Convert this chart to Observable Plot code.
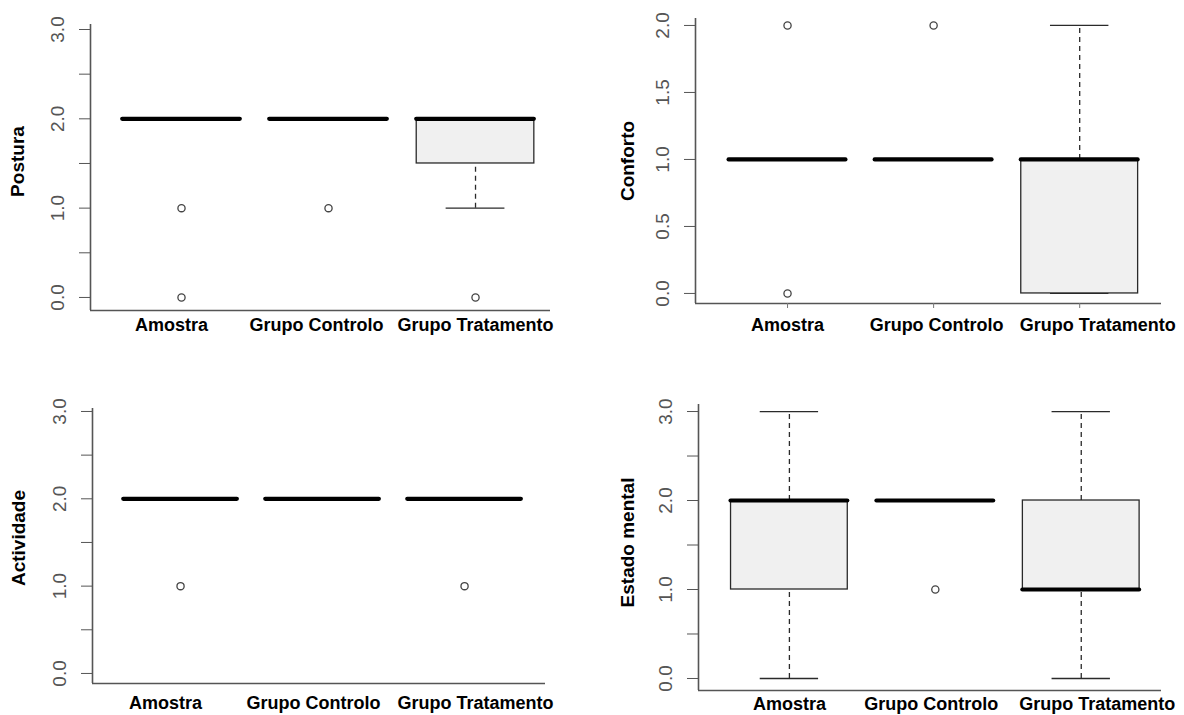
<!DOCTYPE html>
<html><head><meta charset="utf-8">
<script src="https://cdn.jsdelivr.net/npm/d3@7"></script>
<script src="https://cdn.jsdelivr.net/npm/@observablehq/plot@0.6"></script>
<style>
body{margin:0;background:#fff;}
#wrap{position:relative;width:1184px;height:715px;overflow:hidden;font-family:"Liberation Sans",Arial,sans-serif;}
.panel{position:absolute;}
</style></head><body><div id="wrap"></div>
<script>
// ---- data ----
const categories = ["Amostra", "Grupo Controlo", "Grupo Tratamento"];

const posturaLow = [2, 2, 1];
const posturaQ1 = [2, 2, 1.5];
const posturaMedian = [2, 2, 2];
const posturaQ3 = [2, 2, 2];
const posturaHigh = [2, 2, 2];
const posturaOutlierCat = ["Amostra", "Amostra", "Grupo Controlo", "Grupo Tratamento"];
const posturaOutlierVal = [1, 0, 1, 0];

const confortoLow = [1, 1, 0];
const confortoQ1 = [1, 1, 0];
const confortoMedian = [1, 1, 1];
const confortoQ3 = [1, 1, 1];
const confortoHigh = [1, 1, 2];
const confortoOutlierCat = ["Amostra", "Amostra", "Grupo Controlo"];
const confortoOutlierVal = [2, 0, 2];

const actividadeLow = [2, 2, 2];
const actividadeQ1 = [2, 2, 2];
const actividadeMedian = [2, 2, 2];
const actividadeQ3 = [2, 2, 2];
const actividadeHigh = [2, 2, 2];
const actividadeOutlierCat = ["Amostra", "Grupo Tratamento"];
const actividadeOutlierVal = [1, 1];

const mentalLow = [0, 2, 0];
const mentalQ1 = [1, 2, 1];
const mentalMedian = [2, 2, 1];
const mentalQ3 = [2, 2, 2];
const mentalHigh = [3, 2, 3];
const mentalOutlierCat = ["Grupo Controlo"];
const mentalOutlierVal = [1];

const ticks0to3 = [0, 0.5, 1, 1.5, 2, 2.5, 3];
const ticks0to3Labelled = [0, 1, 2, 3];
const ticks0to2 = [0, 0.5, 1, 1.5, 2];
const ticks0to2Labelled = [0, 0.5, 1, 1.5, 2];

// ---- drawing ----
const FONT = "'Liberation Sans', Arial, sans-serif";

function panel(cfg) {
  const boxes = categories.map((c, i) => ({
    cat: c, pos: i + 1,
    low: cfg.low[i], q1: cfg.q1[i], med: cfg.med[i], q3: cfg.q3[i], high: cfg.high[i]
  }));
  const outs = cfg.outCat.map((c, k) => ({pos: categories.indexOf(c) + 1, v: cfg.outVal[k]}));
  const half = 0.4, capHalf = 0.2;
  const line = "#2a2a2a";
  const plot = Plot.plot({
    width: cfg.width, height: cfg.height,
    marginLeft: cfg.mL, marginRight: cfg.mR, marginTop: cfg.mT, marginBottom: cfg.mB,
    x: {type: "linear", domain: cfg.xDomain},
    y: {type: "linear", domain: cfg.yDomain},
    style: {fontFamily: FONT, background: "transparent", overflow: "visible"},
    marks: [
      Plot.ruleX(boxes.filter(d => d.high > d.q3), {x: "pos", y1: "q3", y2: "high", stroke: line, strokeWidth: 1.3, strokeDasharray: "5,4"}),
      Plot.ruleX(boxes.filter(d => d.low < d.q1), {x: "pos", y1: "low", y2: "q1", stroke: line, strokeWidth: 1.3, strokeDasharray: "5,4"}),
      Plot.ruleY(boxes, {y: "high", x1: d => d.pos - capHalf, x2: d => d.pos + capHalf, stroke: line, strokeWidth: 1.3}),
      Plot.ruleY(boxes, {y: "low", x1: d => d.pos - capHalf, x2: d => d.pos + capHalf, stroke: line, strokeWidth: 1.3}),
      Plot.rect(boxes.filter(d => d.q3 > d.q1), {x1: d => d.pos - half, x2: d => d.pos + half, y1: "q1", y2: "q3", fill: "#f0f0f0", stroke: line, strokeWidth: 1.3}),
      Plot.ruleY(boxes, {y: "med", x1: d => d.pos - half, x2: d => d.pos + half, stroke: "#000", strokeWidth: 4.2, strokeLinecap: "round"}),
      Plot.dot(outs, {x: "pos", y: "v", r: 3.6, stroke: "#444", fill: "#fff", strokeWidth: 1.3}),
      Plot.ruleX([cfg.xDomain[0]], {stroke: "#555", strokeWidth: 1.6}),
      Plot.ruleY([cfg.yDomain[0]], {stroke: "#555", strokeWidth: 1.6}),
      Plot.axisY({
        ticks: cfg.yTicks,
        tickFormat: d => cfg.yLabelled.includes(d) ? d.toFixed(1) : "",
        tickSize: 11, tickPadding: cfg.yPad, tickRotate: -90,
        fontSize: 19, color: "#555", label: null
      }),
      Plot.axisX({
        ticks: [1, 2, 3], tickFormat: () => "",
        tickSize: cfg.xTick, stroke: "#777", label: null
      }),
      ...categories.map((c, i) => Plot.axisX({
        ticks: [i + 1], tickFormat: () => c,
        tickSize: 0, tickPadding: cfg.xTick + cfg.xPad,
        dx: cfg.labelShift[i],
        fontSize: 18, fontWeight: "bold", fill: "#000", label: null
      })),
      Plot.text([cfg.title], {
        text: d => d, frameAnchor: "left", textAnchor: "middle", rotate: -90,
        dx: cfg.titleDx, dy: cfg.titleDy,
        fontSize: 19, fontWeight: "bold", fill: "#000"
      })
    ]
  });
  const div = document.createElement("div");
  div.className = "panel";
  div.style.left = cfg.left + "px";
  div.style.top = cfg.top + "px";
  div.appendChild(plot);
  document.getElementById("wrap").appendChild(div);
}

panel({
  left: 0, top: 0, width: 592, height: 345,
  mL: 90, mR: 42, mT: 24, mB: 35,
  xDomain: [0.381, 3.51], yDomain: [-0.146, 3.056],
  yTicks: ticks0to3, yLabelled: ticks0to3Labelled, yPad: 16,
  xTick: 0, xPad: 8, labelShift: [-10, -12, 0],
  low: posturaLow, q1: posturaQ1, med: posturaMedian, q3: posturaQ3, high: posturaHigh,
  outCat: posturaOutlierCat, outVal: posturaOutlierVal,
  title: "Postura", titleDx: -73, titleDy: -6
});

panel({
  left: 592, top: 0, width: 592, height: 345,
  mL: 103, mR: 23, mT: 18, mB: 42,
  xDomain: [0.37, 3.56], yDomain: [-0.075, 2.052],
  yTicks: ticks0to2, yLabelled: ticks0to2Labelled, yPad: 16,
  xTick: 5, xPad: 10, labelShift: [0, 3, 18],
  low: confortoLow, q1: confortoQ1, med: confortoMedian, q3: confortoQ3, high: confortoHigh,
  outCat: confortoOutlierCat, outVal: confortoOutlierVal,
  title: "Conforto", titleDx: -68, titleDy: 0
});

panel({
  left: 0, top: 370, width: 592, height: 345,
  mL: 92, mR: 47, mT: 38, mB: 32,
  xDomain: [0.38, 3.57], yDomain: [-0.115, 3.034],
  yTicks: ticks0to3, yLabelled: ticks0to3Labelled, yPad: 16,
  xTick: 0, xPad: 13, labelShift: [-15, -9, 11],
  low: actividadeLow, q1: actividadeQ1, med: actividadeMedian, q3: actividadeQ3, high: actividadeHigh,
  outCat: actividadeOutlierCat, outVal: actividadeOutlierVal,
  title: "Actividade", titleDx: -74, titleDy: -8
});

panel({
  left: 592, top: 370, width: 592, height: 345,
  mL: 106, mR: 23, mT: 34, mB: 25,
  xDomain: [0.377, 3.55], yDomain: [-0.135, 3.079],
  yTicks: ticks0to3, yLabelled: ticks0to3Labelled, yPad: 16,
  xTick: 0, xPad: 7, labelShift: [0, -4, 16],
  low: mentalLow, q1: mentalQ1, med: mentalMedian, q3: mentalQ3, high: mentalHigh,
  outCat: mentalOutlierCat, outVal: mentalOutlierVal,
  title: "Estado mental", titleDx: -71, titleDy: -5
});
</script>
</body></html>
